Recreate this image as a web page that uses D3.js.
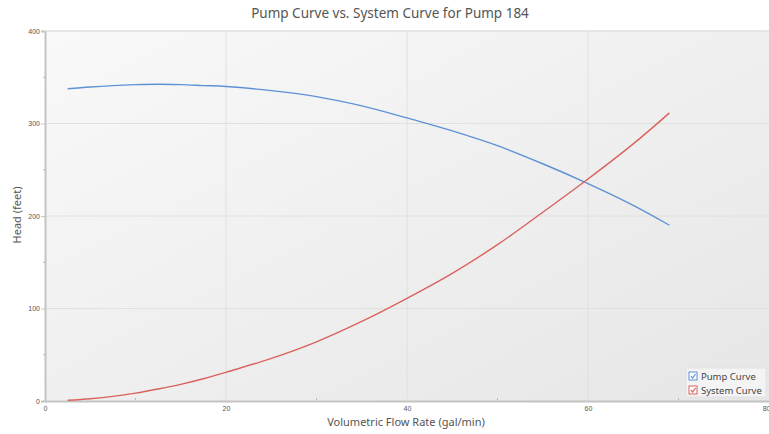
<!DOCTYPE html>
<html>
<head>
<meta charset="utf-8">
<script src="https://cdn.jsdelivr.net/npm/d3@7"></script>
<style>
  body { margin: 0; background: #fff; }
  svg { display: block; font-family: "Noto Sans", "DejaVu Sans", sans-serif; }
</style>
</head>
<body>
<div id="chart"></div>
<script>
// flow rate (gal/min) for each sampled point
var flowRates = [2.5, 5, 7.5, 10, 12.5, 15, 17.5, 20, 25, 30, 35, 40, 45, 50, 55, 60, 65, 69];
// head (feet)
var pumpHead = [337.5, 339.5, 341, 342, 342.5, 342, 341, 340, 335.5, 329, 319, 306, 292, 276, 256.5, 235, 211.5, 190];
var systemHead = [0.8, 2.5, 5, 8.5, 13, 18, 24, 31, 46, 64, 86, 111, 138, 169, 204, 240, 278, 311.5];

var xTicks = [0, 20, 40, 60, 80];
var yTicks = [0, 100, 200, 300, 400];
var seriesNames = ['Pump Curve', 'System Curve'];
var seriesColors = ['#5f92d4', '#d9625c'];

var chart = {
	init: function () {
		var self = this;
		self.width = 769;
		self.height = 434;
		self.margin = {left: 45, right: 0, top: 31, bottom: 33};
		self.svg = d3.select('#chart').append('svg')
			.attr('width', self.width)
			.attr('height', self.height);
		self.x = d3.scaleLinear().domain([0, 80]).range([self.margin.left, self.width - self.margin.right]);
		self.y = d3.scaleLinear().domain([0, 400]).range([self.height - self.margin.bottom, self.margin.top]);
		self.drawFrame();
		self.drawAxes();
		self.drawLines();
		self.drawLegend();
		self.drawLabels();
	},
	drawFrame: function () {
		var self = this;
		var defs = self.svg.append('defs');
		var grad = defs.append('linearGradient')
			.attr('id', 'bg')
			.attr('x1', '0%').attr('y1', '0%')
			.attr('x2', '100%').attr('y2', '100%');
		grad.append('stop').attr('offset', '0%').attr('stop-color', '#f9f9f9');
		grad.append('stop').attr('offset', '100%').attr('stop-color', '#e6e6e6');

		self.svg.append('rect')
			.attr('x', self.x(0))
			.attr('y', self.y(400))
			.attr('width', self.x(80) - self.x(0))
			.attr('height', self.y(0) - self.y(400))
			.attr('fill', 'url(#bg)');

		// grid
		var g = self.svg.append('g').attr('class', 'grid');
		g.selectAll('line.vx')
			.data(xTicks.slice(1, -1))
			.enter().append('line')
			.attr('x1', function (d) { return self.x(d); })
			.attr('x2', function (d) { return self.x(d); })
			.attr('y1', self.y(400))
			.attr('y2', self.y(0))
			.attr('stroke', '#e0e0e0')
			.attr('stroke-width', 1);
		g.selectAll('line.hy')
			.data(yTicks.slice(1))
			.enter().append('line')
			.attr('x1', self.x(0))
			.attr('x2', self.x(80))
			.attr('y1', function (d) { return self.y(d); })
			.attr('y2', function (d) { return self.y(d); })
			.attr('stroke', '#e0e0e0')
			.attr('stroke-width', 1);
	},
	drawAxes: function () {
		var self = this;
		var xAxis = d3.axisBottom(self.x)
			.tickValues(xTicks)
			.tickSize(0)
			.tickPadding(5);
		var gx = self.svg.append('g')
			.attr('transform', 'translate(0,' + self.y(0) + ')')
			.call(xAxis);
		gx.select('.domain').attr('stroke', '#c4c4c4').attr('stroke-width', 2);
		gx.selectAll('text').attr('fill', '#555').style('font-size', '7px');
		// last label sits on the window edge, keep it inside
		gx.selectAll('.tick').filter(function (d) { return d === 80; })
			.select('text').attr('text-anchor', 'end').attr('dx', 1);

		var yAxis = d3.axisLeft(self.y)
			.tickValues(yTicks)
			.tickSize(4)
			.tickPadding(1);
		var gy = self.svg.append('g')
			.attr('transform', 'translate(' + self.x(0) + ',0)')
			.call(yAxis);
		gy.select('.domain').attr('stroke', '#c4c4c4').attr('stroke-width', 2);
		gy.selectAll('line').attr('stroke', '#c4c4c4');
		gy.selectAll('text').attr('fill', '#555').style('font-size', '7px');

		// minor ticks
		var xMinor = [10, 30, 50, 70];
		self.svg.append('g').selectAll('line')
			.data(xMinor)
			.enter().append('line')
			.attr('x1', function (d) { return self.x(d); })
			.attr('x2', function (d) { return self.x(d); })
			.attr('y1', self.y(0) - 1)
			.attr('y2', self.y(0) - 3)
			.attr('stroke', '#b8b8b8');
		var yMinor = [50, 150, 250, 350];
		self.svg.append('g').selectAll('line')
			.data(yMinor)
			.enter().append('line')
			.attr('x1', self.x(0) - 2)
			.attr('x2', self.x(0) + 1)
			.attr('y1', function (d) { return self.y(d); })
			.attr('y2', function (d) { return self.y(d); })
			.attr('stroke', '#b8b8b8');

		// top border
		self.svg.append('line')
			.attr('x1', self.x(0)).attr('x2', self.x(80))
			.attr('y1', self.y(400)).attr('y2', self.y(400))
			.attr('stroke', '#dedede');
	},
	drawLines: function () {
		var self = this;
		var line = d3.line()
			.x(function (d) { return self.x(d[0]); })
			.y(function (d) { return self.y(d[1]); })
			.curve(d3.curveCatmullRom.alpha(0.5));
		var series = [pumpHead, systemHead];
		series.forEach(function (vals, i) {
			var pts = flowRates.map(function (f, j) { return [f, vals[j]]; });
			self.svg.append('path')
				.datum(pts)
				.attr('d', line)
				.attr('fill', 'none')
				.attr('stroke', seriesColors[i])
				.attr('stroke-width', 1.4);
		});
	},
	drawLegend: function () {
		var self = this;
		var lg = self.svg.append('g').attr('transform', 'translate(686,368)');
		lg.append('rect')
			.attr('width', 80)
			.attr('height', 29)
			.attr('fill', '#f4f4f4')
			.attr('stroke', '#e2e2e2');
		var item = lg.selectAll('g.item')
			.data(seriesNames)
			.enter().append('g')
			.attr('transform', function (d, i) { return 'translate(3,' + (4 + i * 14) + ')'; });
		item.append('rect')
			.attr('width', 8).attr('height', 8)
			.attr('fill', '#fff')
			.attr('stroke', function (d, i) { return seriesColors[i]; });
		item.append('path')
			.attr('d', 'M1.8,4.2 L3.6,6 L6.6,2')
			.attr('fill', 'none')
			.attr('stroke', function (d, i) { return seriesColors[i]; })
			.attr('stroke-width', 1.2);
		item.append('text')
			.attr('x', 12)
			.attr('y', 7.5)
			.attr('fill', '#444')
			.style('font-size', '9.5px')
			.text(function (d) { return d; });
	},
	drawLabels: function () {
		var self = this;
		self.svg.append('text')
			.attr('x', 390)
			.attr('y', 18)
			.attr('text-anchor', 'middle')
			.attr('fill', '#555')
			.style('font-size', '13.5px')
			.text('Pump Curve vs. System Curve for Pump 184');
		self.svg.append('text')
			.attr('x', 406)
			.attr('y', 426)
			.attr('text-anchor', 'middle')
			.attr('fill', '#555')
			.style('font-size', '11px')
			.text('Volumetric Flow Rate (gal/min)');
		self.svg.append('text')
			.attr('transform', 'translate(21,215) rotate(-90)')
			.attr('text-anchor', 'middle')
			.attr('fill', '#555')
			.style('font-size', '11px')
			.text('Head (feet)');
	}
};

chart.init();
</script>
</body>
</html>
